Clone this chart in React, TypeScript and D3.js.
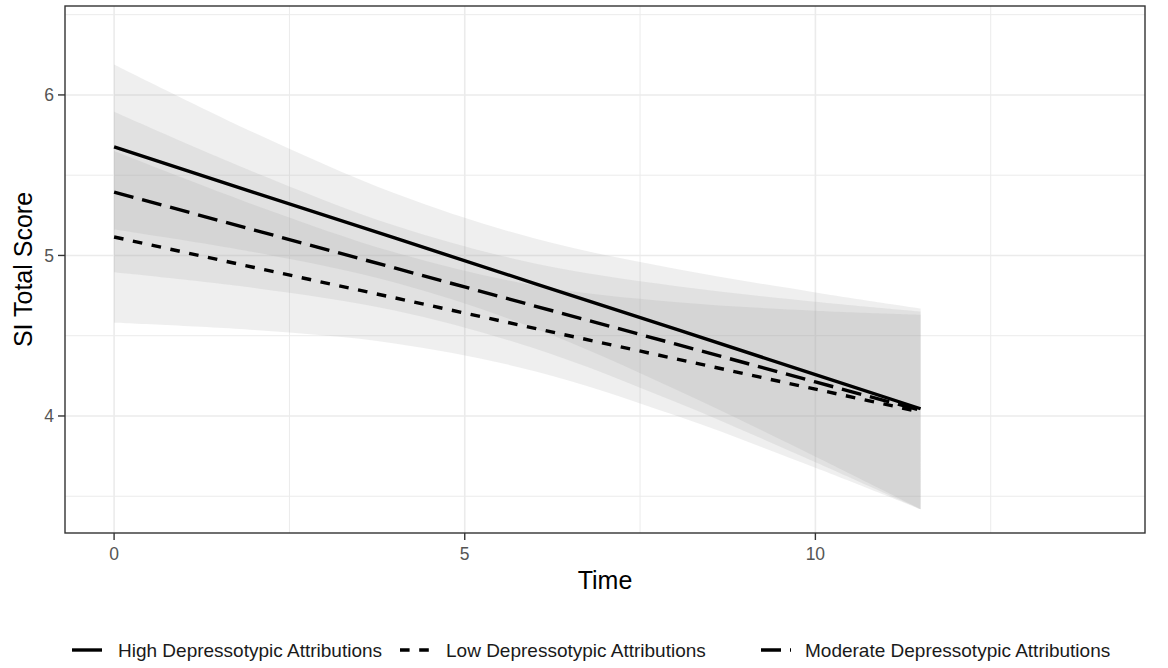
import React from "react";
import * as d3 from "d3";

// ---- data ----
const timePoints = [0, 2, 4, 6, 8, 10, 11.5];

const highFit = [5.676, 5.392, 5.109, 4.825, 4.542, 4.258, 4.045];
const highUpper = [6.19, 5.764, 5.387, 5.105, 4.917, 4.77, 4.67];
const highLower = [5.162, 5.02, 4.831, 4.545, 4.167, 3.746, 3.42];

const lowFit = [5.115, 4.925, 4.736, 4.546, 4.357, 4.167, 4.025];
const lowUpper = [5.65, 5.315, 5.02, 4.813, 4.71, 4.656, 4.631];
const lowLower = [4.58, 4.535, 4.452, 4.279, 4.004, 3.678, 3.419];

const modFit = [5.395, 5.158, 4.922, 4.685, 4.449, 4.212, 4.035];
const modUpper = [5.895, 5.519, 5.187, 4.95, 4.81, 4.712, 4.651];
const modLower = [4.895, 4.797, 4.657, 4.42, 4.088, 3.712, 3.419];

const groupNames = [
  "High Depressotypic Attributions",
  "Low Depressotypic Attributions",
  "Moderate Depressotypic Attributions",
];

const xTicks = [0, 5, 10];
const xMinor = [2.5, 7.5, 12.5];
const yTicks = [4, 5, 6];
const yMinor = [3.5, 4.5, 5.5, 6.5];
const xDomain = [-0.7, 14.7];
const yDomain = [3.271, 6.554];

const xTitle = "Time";
const yTitle = "SI Total Score";

// ---- layout ----
const W = 1168;
const H = 668;
const panel = { left: 65, right: 1145, top: 6, bottom: 533 };
const FONT = "'Liberation Sans', Arial, Helvetica, sans-serif";

const dashes = ["none", "9.6,9.6", "20,9"];
const legendKeyX = [72, 400, 761];
const legendTextX = [118, 446, 805];

export default function App() {
  const x = d3.scaleLinear().domain(xDomain).range([panel.left, panel.right]);
  const y = d3.scaleLinear().domain(yDomain).range([panel.bottom, panel.top]);

  const groups = [
    { fit: highFit, up: highUpper, lo: highLower },
    { fit: lowFit, up: lowUpper, lo: lowLower },
    { fit: modFit, up: modUpper, lo: modLower },
  ];

  const area = (up: number[], lo: number[]) =>
    d3
      .area<number>()
      .x((_, i) => x(timePoints[i]))
      .y0((_, i) => y(lo[i]))
      .y1((_, i) => y(up[i]))
      .curve(d3.curveCatmullRom.alpha(0.5))(timePoints) || "";

  const line = (v: number[]) =>
    d3
      .line<number>()
      .x((_, i) => x(timePoints[i]))
      .y((_, i) => y(v[i]))(timePoints) || "";

  const grid = "#ebebeb";
  const ink = "#333333";

  return (
    <svg
      width={W}
      height={H}
      style={{ position: "absolute", left: 0, top: 0, background: "#fff" }}
      fontFamily={FONT}
    >
      <rect x={0} y={0} width={W} height={H} fill="#fff" />
      {/* minor grid */}
      {xMinor.map((t) => (
        <line key={"xm" + t} x1={x(t)} x2={x(t)} y1={panel.top} y2={panel.bottom} stroke={grid} strokeWidth={1} />
      ))}
      {yMinor.map((t) => (
        <line key={"ym" + t} x1={panel.left} x2={panel.right} y1={y(t)} y2={y(t)} stroke={grid} strokeWidth={1} />
      ))}
      {/* major grid */}
      {xTicks.map((t) => (
        <line key={"xg" + t} x1={x(t)} x2={x(t)} y1={panel.top} y2={panel.bottom} stroke={grid} strokeWidth={1.6} />
      ))}
      {yTicks.map((t) => (
        <line key={"yg" + t} x1={panel.left} x2={panel.right} y1={y(t)} y2={y(t)} stroke={grid} strokeWidth={1.6} />
      ))}

      {/* ribbons */}
      {groups.map((g, i) => (
        <path key={"r" + i} d={area(g.up, g.lo)} fill="#999999" fillOpacity={0.16} stroke="none" />
      ))}
      {/* lines */}
      {groups.map((g, i) => (
        <path
          key={"l" + i}
          d={line(g.fit)}
          fill="none"
          stroke="#000"
          strokeWidth={3.4}
          strokeDasharray={dashes[i]}
        />
      ))}

      {/* panel border */}
      <rect
        x={panel.left}
        y={panel.top}
        width={panel.right - panel.left}
        height={panel.bottom - panel.top}
        fill="none"
        stroke={ink}
        strokeWidth={1.4}
      />

      {/* x axis */}
      {xTicks.map((t) => (
        <g key={"xt" + t}>
          <line x1={x(t)} x2={x(t)} y1={panel.bottom} y2={panel.bottom + 7} stroke={ink} strokeWidth={1.4} />
          <text x={x(t)} y={560} textAnchor="middle" fontSize={17.5} fill="#555555">
            {t}
          </text>
        </g>
      ))}
      {/* y axis */}
      {yTicks.map((t) => (
        <g key={"yt" + t}>
          <line x1={panel.left - 7} x2={panel.left} y1={y(t)} y2={y(t)} stroke={ink} strokeWidth={1.4} />
          <text x={54} y={y(t)} dy="0.36em" textAnchor="end" fontSize={17.5} fill="#555555">
            {t}
          </text>
        </g>
      ))}

      {/* axis titles */}
      <text x={(panel.left + panel.right) / 2} y={589} textAnchor="middle" fontSize={25} fill="#000">
        {xTitle}
      </text>
      <text
        transform={`translate(32,${(panel.top + panel.bottom) / 2}) rotate(-90)`}
        textAnchor="middle"
        fontSize={25}
        fill="#000"
      >
        {yTitle}
      </text>

      {/* legend */}
      {groupNames.map((name, i) => (
        <g key={"lg" + i}>
          <line
            x1={legendKeyX[i]}
            x2={legendKeyX[i] + 30}
            y1={650}
            y2={650}
            stroke="#000"
            strokeWidth={3.4}
            strokeDasharray={dashes[i]}
          />
          <text x={legendTextX[i]} y={657} fontSize={19} fill="#1a1a1a">
            {name}
          </text>
        </g>
      ))}
    </svg>
  );
}
